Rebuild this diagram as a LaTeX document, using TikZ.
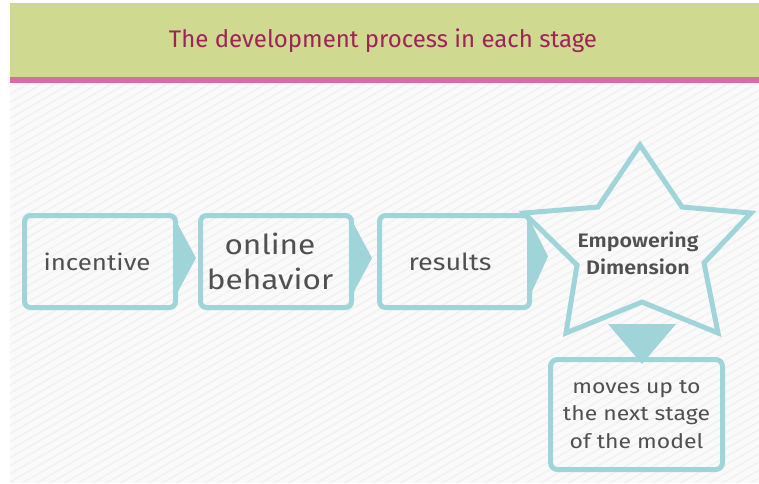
\documentclass[tikz,border=0pt]{standalone}
\usepackage{fontspec}
\setmainfont{Fira Sans}
\newfontfamily\boxfont[FakeStretch=1.15]{Fira Sans}
\newfontfamily\boldfont[FakeStretch=1.1]{Fira Sans SemiBold}
\newfontfamily\titlefont{Fira Sans}
\definecolor{teal}{HTML}{9FD4D9}
\definecolor{hdrgreen}{HTML}{CFD98F}
\definecolor{hdrpink}{HTML}{D96BA6}
\definecolor{titlecol}{HTML}{9E2458}
\definecolor{txtgray}{HTML}{505050}
\definecolor{bggray}{HTML}{F3F2F3}
\newcommand{\lft}[1]{\hspace*{#1}}
\begin{document}
\begin{tikzpicture}[x=1pt,y=-1pt,
  stepbox/.style={draw=teal,line width=5pt,rounded corners=6pt,inner sep=0pt,
    minimum height=92pt,align=center,text=txtgray},
  tri/.style={fill=teal},
  starline/.style={draw=teal,line width=5pt,line join=miter}]
\useasboundingbox (0,0) rectangle (759,483);
\fill[white] (0,0) rectangle (759,483);
% background with stripes
\begin{scope}
\clip (10,83) rectangle (759,483);
\fill[bggray] (10,83) rectangle (759,483);
\foreach \i in {-60,...,60}{
  \draw[white,line width=5pt,opacity=0.65] (\i*14,500) -- ++(750,-433);
}
\end{scope}
% header
\fill[hdrgreen] (10,3) rectangle (759,77);
\fill[hdrpink] (10,77) rectangle (759,83);
\node[text=titlecol,font=\titlefont\fontsize{24}{28}\selectfont] (title) at (383,41) {The development process in each stage};
% boxes
\node[stepbox,minimum width=151pt,font=\boxfont\fontsize{22.5}{35}\selectfont] (b1) at (100,261.5) {incentive\lft{6pt}};
\node[stepbox,minimum width=151pt,font=\boxfont\fontsize{27.5}{35}\selectfont] (b2) at (276,261.5) {online\lft{12pt}\\behavior\lft{12pt}};
\node[stepbox,minimum width=150pt,font=\boxfont\fontsize{23.5}{35}\selectfont] (b3) at (454.5,261.5) {results\lft{9pt}};
\node[stepbox,minimum width=172pt,minimum height=110pt,rounded corners=7pt,font=\boxfont\fontsize{20}{27.5}\selectfont] (b4) at (636.5,414.5) {moves up to\\the next stage\\of the model};
% star
\coordinate (s1) at (640,145);
\coordinate (s2) at (682,207);
\coordinate (s3) at (751,213);
\coordinate (s4) at (704,263);
\coordinate (s5) at (718,333);
\coordinate (s6) at (642,302);
\coordinate (s7) at (566,333);
\coordinate (s8) at (577,265);
\coordinate (s9) at (524,213);
\coordinate (s10) at (598,207);
\draw[starline] (s1) -- (s2) -- (s3) -- (s4) -- (s5) -- (s6) -- (s7) -- (s8) -- (s9) -- (s10) -- cycle;
\node[text=txtgray,align=center,font=\boldfont\fontsize{19.5}{27}\selectfont] (star) at (638,253) {Empowering\\Dimension};
% arrows
\fill[tri] ([yshift=-30pt]b1.east) -- ([xshift=18pt,yshift=3.5pt]b1.east) -- ([yshift=37pt]b1.east) -- cycle;
\fill[tri] ([yshift=-30pt]b2.east) -- ([xshift=18pt,yshift=3.5pt]b2.east) -- ([yshift=37pt]b2.east) -- cycle;
\fill[tri] ([yshift=-30pt]b3.east) -- ([xshift=16pt,yshift=5pt]b3.east) -- ([yshift=37pt]b3.east) -- cycle;
\fill[tri] ([xshift=-28.5pt]b4.north |- 0,324) -- ([xshift=39.5pt]b4.north |- 0,324) -- ([xshift=5.5pt,yshift=-7pt]b4.north) -- cycle;
\end{tikzpicture}
\end{document}
